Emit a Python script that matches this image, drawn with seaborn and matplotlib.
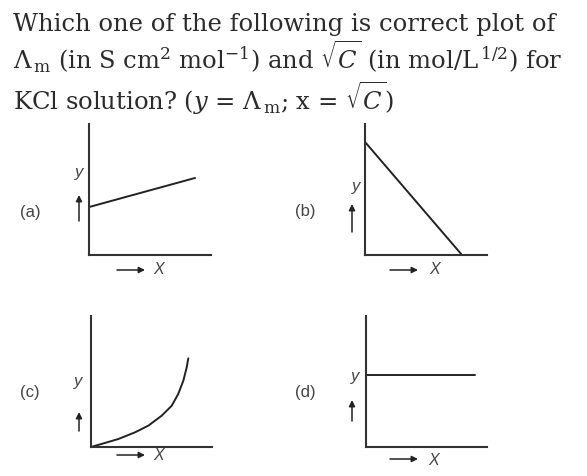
import matplotlib
matplotlib.use("Agg")
import matplotlib.pyplot as plt
import seaborn as sns

# curve data for the four options, in axes units (0..1)
a_x = [0.0, 0.869]
a_y = [0.366, 0.588]
b_x = [0.0, 0.795]
b_y = [0.863, 0.0]
c_x = [0.0, 0.116, 0.226, 0.364, 0.474, 0.584, 0.667, 0.721, 0.763, 0.791, 0.804]
c_y = [0.0, 0.031, 0.061, 0.112, 0.163, 0.239, 0.315, 0.405, 0.506, 0.608, 0.677]
d_x = [0.0, 0.90]
d_y = [0.55, 0.55]
panel_labels = ["(a)", "(b)", "(c)", "(d)"]

question_lines = [
    "Which one of the following is correct plot of",
    r"$\Lambda_{\,\rm m}$ (in S cm$^2$ mol$^{-1}$) and $\sqrt{C}$ (in mol/L$^{\,1/2}$) for",
    r"KCl solution? ($y$ = $\Lambda_{\,\rm m}$; x = $\sqrt{C}$)",
]

W, H = 587, 477
sns.set_style("white")
plt.rcParams["font.family"] = ["DejaVu Serif"]
plt.rcParams["mathtext.fontset"] = "dejavuserif"

fig = plt.figure(figsize=(W / 100, H / 100), dpi=100)

text_color = "#2b2b2b"
line_color = "#222222"
label_color = "#444444"

baselines = [31, 69, 110]
for txt, yb in zip(question_lines, baselines):
    fig.text(13 / W, 1 - yb / H, txt, fontsize=17.5, color=text_color,
             va="baseline", ha="left")

# panel boxes in pixels: left, top, right, bottom
boxes = [(89, 125, 211, 256), (365, 125, 487, 256),
         (91, 317, 212, 448), (366, 317, 487, 448)]
series = [(a_x, a_y), (b_x, b_y), (c_x, c_y), (d_x, d_y)]

# label / arrow placement in pixels
label_pos = [(30, 213), (305, 212), (30, 393), (305, 393)]
y_pos = [(79, 173), (356, 187), (78, 382), (355, 377)]
up_arrow = [(79, 222, 196), (352, 233, 205), (79, 432, 413), (352, 422, 401)]
right_arrow = [(117, 145, 271), (390, 418, 271), (117, 145, 456), (390, 418, 460)]
x_pos = [(159, 270), (435, 270), (159, 456), (434, 461)]

sans = ["Liberation Sans", "DejaVu Sans"]

for i, (box, (xs, ys)) in enumerate(zip(boxes, series)):
    l, t, r, b = box
    ax = fig.add_axes([l / W, 1 - b / H, (r - l) / W, (b - t) / H])
    sns.lineplot(x=xs, y=ys, ax=ax, color=line_color, linewidth=1.4)
    ax.set_xlim(0, 1)
    ax.set_ylim(0, 1)
    ax.set_xticks([])
    ax.set_yticks([])
    ax.set_xlabel("")
    ax.set_ylabel("")
    ax.patch.set_alpha(0)
    for side in ["top", "right"]:
        ax.spines[side].set_visible(False)
    for side in ["left", "bottom"]:
        ax.spines[side].set_color("#333333")
        ax.spines[side].set_linewidth(1.5)

    px, py = label_pos[i]
    fig.text(px / W, 1 - py / H, panel_labels[i], fontsize=12, family=sans,
             color=label_color, ha="center", va="center")
    yx, yy = y_pos[i]
    fig.text(yx / W, 1 - yy / H, "y", fontsize=12, family=sans, style="italic",
             color=label_color, ha="center", va="center")
    xx, xy = x_pos[i]
    fig.text(xx / W, 1 - xy / H, "X", fontsize=11.5, family=sans, style="italic",
             color=label_color, ha="center", va="center")

    ux, uy0, uy1 = up_arrow[i]
    ax.annotate("", xy=(ux, H - uy1), xytext=(ux, H - uy0),
                xycoords="figure pixels", textcoords="figure pixels",
                arrowprops=dict(arrowstyle="-|>", color=line_color, lw=1.1,
                                mutation_scale=9, shrinkA=0, shrinkB=0))
    rx0, rx1, ry = right_arrow[i]
    ax.annotate("", xy=(rx1, H - ry), xytext=(rx0, H - ry),
                xycoords="figure pixels", textcoords="figure pixels",
                arrowprops=dict(arrowstyle="-|>", color=line_color, lw=1.1,
                                mutation_scale=9, shrinkA=0, shrinkB=0))

fig.savefig("out.png", dpi=100, facecolor="white")
